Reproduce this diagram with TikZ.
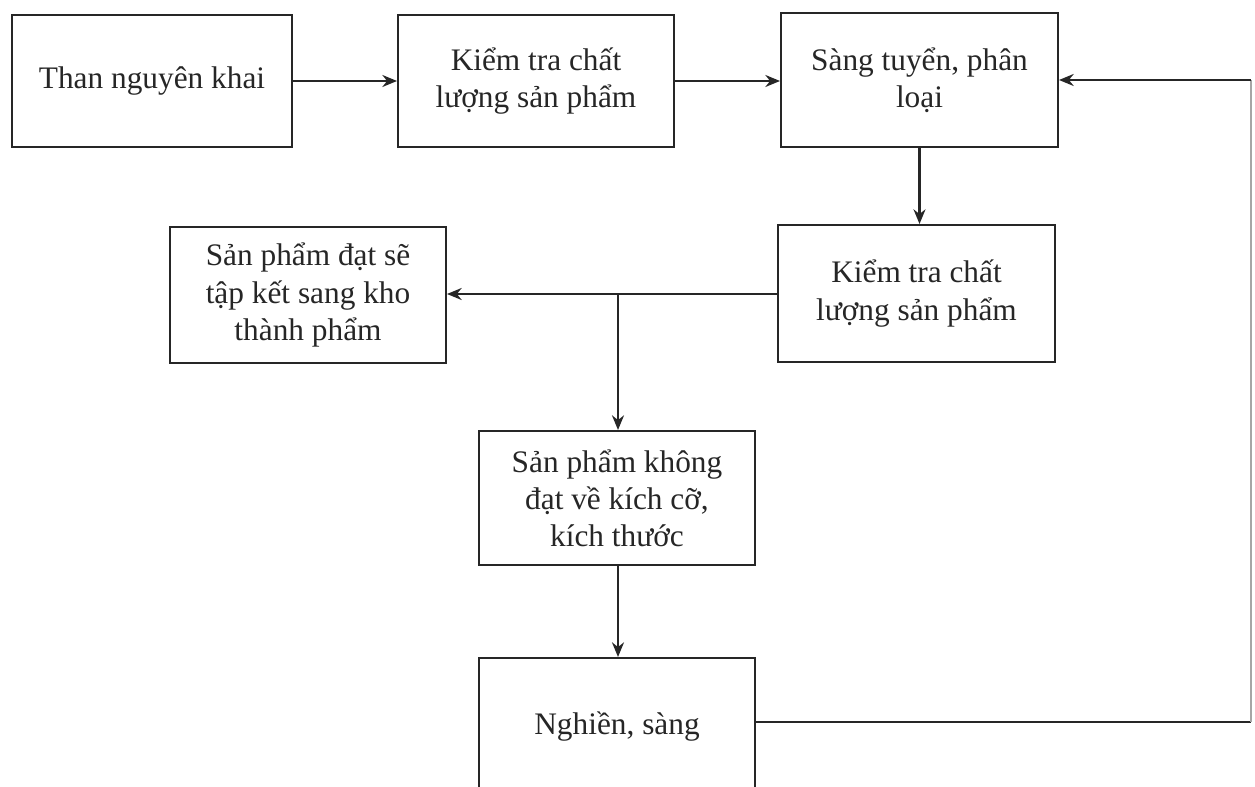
\documentclass[tikz,border=0pt]{standalone}
\usepackage{fontspec}
\setmainfont{Liberation Serif}
\usetikzlibrary{arrows.meta}
\begin{document}
\begin{tikzpicture}[x=0.75pt,y=-0.75pt,
  box/.style={draw=black!85,line width=1.5pt,align=center,inner sep=0pt,
    font=\fontsize{23.5}{27.8}\selectfont,text=black!85},
  conn/.style={draw=black!85,line width=1.6pt,-{Stealth[length=11pt,width=9pt]}},
  plain/.style={draw=black!85,line width=1.6pt}]
\useasboundingbox (0,0) rectangle (1255,787);
\clip (0,0) rectangle (1255,787);
\node[box,minimum width=280*0.75pt,minimum height=132*0.75pt] (n1) at (152,81) {Than nguyên khai};
\node[box,minimum width=276*0.75pt,minimum height=132*0.75pt] (n2) at (536,81) {Kiểm tra chất\\lượng sản phẩm};
\node[box,minimum width=277*0.75pt,minimum height=134*0.75pt] (n3) at (919.5,80) {Sàng tuyển, phân\\loại};
\node[box,minimum width=276*0.75pt,minimum height=136*0.75pt] (n4) at (308,295) {Sản phẩm đạt sẽ\\tập kết sang kho\\thành phẩm};
\node[box,minimum width=277*0.75pt,minimum height=137*0.75pt] (n5) at (916.5,293.5) {Kiểm tra chất\\lượng sản phẩm};
\node[box,minimum width=276*0.75pt,minimum height=134*0.75pt] (n6) at (617,498) {Sản phẩm không\\đạt về kích cỡ,\\kích thước};
\node[box,minimum width=276*0.75pt,minimum height=138*0.75pt] (n7) at (617,727) {Nghiền, sàng};
\coordinate (br) at (618,294);
\coordinate (r1) at (1251,722);
\coordinate (r2) at (1251,80);
\draw[conn] (n1.east) -- (n2.west);
\draw[conn] (n2.east) -- (n3.west |- n2.east);
\draw[conn] (n3.south) -- (n3.south |- n5.north);
\draw[conn] (n5.west |- br) -- (n4.east |- br);
\draw[conn] (br) -- (br |- n6.north);
\draw[conn] (n6.south -| br) -- (n7.north -| br);
\draw[plain] (n7.east |- r1) -- (r1);
\draw[draw=black!35,line width=1pt] (r1) -- (r2);
\draw[conn] (r2) -- (n3.east |- r2);
\end{tikzpicture}
\end{document}
